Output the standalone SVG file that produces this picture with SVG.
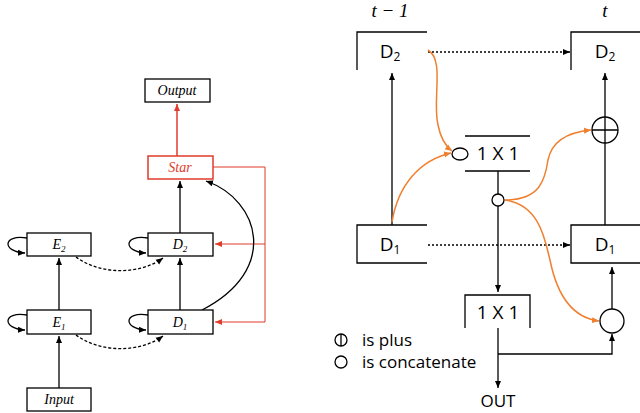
<svg xmlns="http://www.w3.org/2000/svg" width="640" height="413" viewBox="0 0 640 413">
<style>
.b{fill:#fff;stroke:#000;stroke-width:1.3}
.r{fill:#fff;stroke:#e03b2b;stroke-width:1.5}
.t{font-family:"Liberation Serif",serif;font-style:italic;font-size:14px;text-anchor:middle}
.s{font-family:"Open Sans","Noto Sans",sans-serif;font-size:19px;text-anchor:middle}
.lg{font-family:"Open Sans","Noto Sans",sans-serif;font-size:17px;text-anchor:start}
.l{fill:none;stroke:#000;stroke-width:1.3}
.o{fill:none;stroke:#f08030;stroke-width:1.5}
.rl{fill:none;stroke:#e03b2b;stroke-width:1}
</style>
<defs>
<marker id="a" markerWidth="8" markerHeight="8" refX="7" refY="4" orient="auto" markerUnits="userSpaceOnUse"><path d="M0,1 L7,4 L0,7z" fill="#000"/></marker>
<marker id="ar" markerWidth="8" markerHeight="8" refX="7" refY="4" orient="auto" markerUnits="userSpaceOnUse"><path d="M0,1 L7,4 L0,7z" fill="#e03b2b"/></marker>
<marker id="ao" markerWidth="8" markerHeight="8" refX="7" refY="4" orient="auto" markerUnits="userSpaceOnUse"><path d="M0,1 L7,4 L0,7z" fill="#f08030"/></marker>
</defs>
<g id="connectors">
<path class="l" d="M59,388V336" stroke-width="0.8" marker-end="url(#a)"/>
<path class="l" d="M59,310V258" marker-end="url(#a)"/>
<path class="l" d="M180,310V258" marker-end="url(#a)"/>
<path class="l" d="M180,233V181" marker-end="url(#a)"/>
<path d="M177,156V104" fill="none" stroke="#e03b2b" stroke-width="1.5" marker-end="url(#ar)"/>
<path class="rl" d="M213,167H265V322H215" marker-end="url(#ar)"/>
<path class="rl" d="M265,244H215" marker-end="url(#ar)"/>
<path class="l" d="M202,310C280,270 260,200 206,181" marker-end="url(#a)"/>
<path class="l" d="M76,257C100,275 140,275 163,258" stroke-dasharray="3,2" marker-end="url(#a)"/>
<path class="l" d="M76,335C100,353 140,353 163,336" stroke-dasharray="3,2" marker-end="url(#a)"/>
<path class="l" d="M27,238C2,234 2,252 25,253" marker-end="url(#a)"/>
<path class="l" d="M27,315C2,311 2,329 25,330" marker-end="url(#a)"/>
<path class="l" d="M148,238C123,234 123,252 146,253" marker-end="url(#a)"/>
<path class="l" d="M148,315C123,311 123,329 146,330" marker-end="url(#a)"/>
<path class="l" d="M392,225V73" marker-end="url(#a)"/>
<path class="l" d="M428,52H570" stroke-dasharray="2,2" stroke-width="1" marker-end="url(#a)"/>
<path class="l" d="M428,245H570" stroke-dasharray="2,2" stroke-width="1" marker-end="url(#a)"/>
<path class="l" d="M498,171V194M498,206V292" marker-end="url(#a)"/>
<path class="l" d="M498,328V388" marker-end="url(#a)"/>
<path class="l" d="M498,354H612V334" marker-end="url(#a)"/>
<path class="l" d="M612,309V267" marker-end="url(#a)"/>
<path class="l" d="M605,225V143M605,117V73" marker-end="url(#a)"/>
<path class="o" d="M428,50C445,60 432,100 438,125C441,140 448,148 452,151" marker-end="url(#ao)"/>
<path class="o" d="M392,222C398,185 420,160 451,153" marker-end="url(#ao)"/>
<path class="o" d="M505,200C540,200 545,180 548,160C552,140 570,132 591,130" marker-end="url(#ao)"/>
<path class="o" d="M505,200C540,205 545,240 550,260C558,300 575,318 599,321" marker-end="url(#ao)"/>
</g>
<g id="output"><rect class="b" x="145" y="79" width="65" height="23"/><text class="t" x="177" y="95">Output</text></g>
<g id="star"><rect class="r" x="148" y="156" width="65" height="23"/><text class="t" x="180" y="172" fill="#e03b2b">Star</text></g>
<g id="e2"><rect class="b" x="27" y="233" width="64" height="23"/><text class="t" x="59" y="249">E<tspan font-size="9" dy="3">2</tspan></text></g>
<g id="d2"><rect class="b" x="148" y="233" width="65" height="23"/><text class="t" x="180" y="249">D<tspan font-size="9" dy="3">2</tspan></text></g>
<g id="e1"><rect class="b" x="27" y="310" width="64" height="24"/><text class="t" x="59" y="327">E<tspan font-size="9" dy="3">1</tspan></text></g>
<g id="d1"><rect class="b" x="148" y="310" width="65" height="24"/><text class="t" x="180" y="327">D<tspan font-size="9" dy="3">1</tspan></text></g>
<g id="input"><rect class="b" x="27" y="388" width="64" height="23" stroke-width="0.8"/><text class="t" x="59" y="404">Input</text></g>
<g id="labels"><text class="t" x="390" y="17" style="font-size:19px">t − 1</text><text class="t" x="605" y="17" style="font-size:19px">t</text></g>
<g id="d2l"><path class="l" d="M427,32H357V70"/><text class="s" x="390" y="58">D<tspan font-size="12" dy="3">2</tspan></text></g>
<g id="d1l"><path class="l" d="M427,225H357V263H427"/><text class="s" x="390" y="251">D<tspan font-size="12" dy="3">1</tspan></text></g>
<g id="d2r"><path class="l" d="M640,32H571V70"/><text class="s" x="605" y="58">D<tspan font-size="12" dy="3">2</tspan></text></g>
<g id="d1r"><path class="l" d="M640,225H571V263H640"/><text class="s" x="605" y="251">D<tspan font-size="12" dy="3">1</tspan></text></g>
<g id="conv1"><path class="l" d="M465,136H530M465,171H530"/><text class="s" x="498" y="160">1 X 1</text><ellipse class="b" cx="460" cy="154" rx="8" ry="6"/></g>
<g id="cat1"><circle class="b" cx="498" cy="200" r="6"/></g>
<g id="plus"><circle class="b" cx="605" cy="130" r="13"/><path class="l" d="M592,130H618M605,117V143"/></g>
<g id="cat2"><circle class="b" cx="612" cy="321" r="12"/></g>
<g id="conv2"><path class="l" d="M465,328V295H530V328"/><text class="s" x="498" y="319">1 X 1</text></g>
<g id="out"><text class="s" x="498" y="407" style="font-size:17px">OUT</text></g>
<g id="legend"><ellipse class="b" cx="341" cy="340" rx="6" ry="6"/><path class="l" d="M341,334V346"/><text class="lg" x="362" y="346">is plus</text><ellipse class="b" cx="341" cy="362" rx="6" ry="6"/><text class="lg" x="362" y="368">is concatenate</text></g>
</svg>
